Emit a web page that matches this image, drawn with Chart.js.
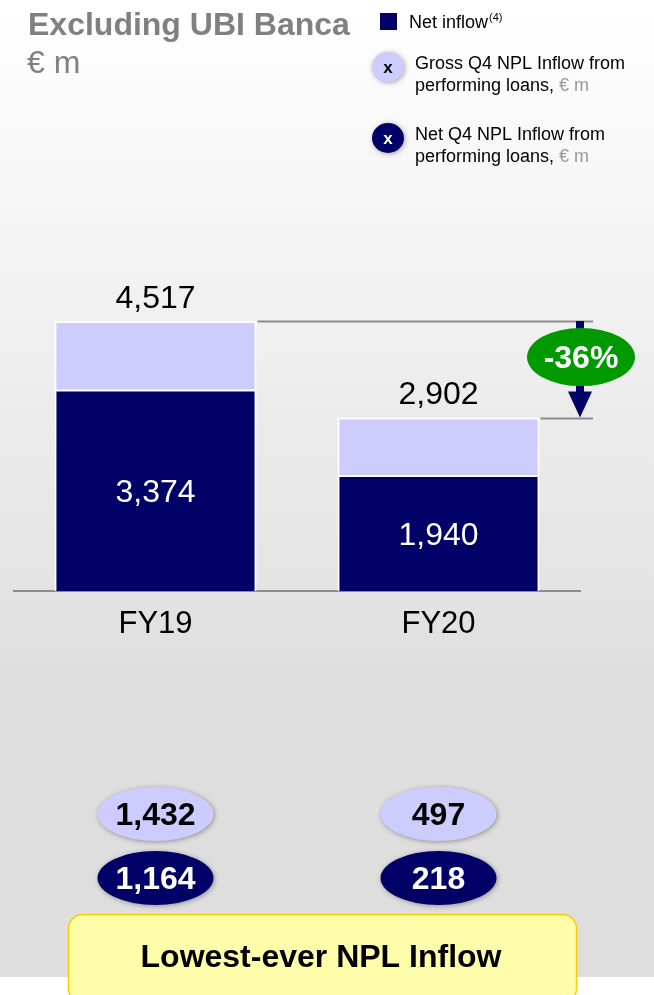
<!DOCTYPE html>
<html>
<head>
<meta charset="utf-8">
<script src="https://cdn.jsdelivr.net/npm/chart.js@4"></script>
<style>
  html, body { margin: 0; padding: 0; background: #fff; }
  #wrap { width: 654px; height: 995px; position: relative; }
</style>
</head>
<body>
<div id="wrap"><canvas id="chartInflow" width="654" height="995"></canvas></div>
<script>
// NPL inflow, excluding UBI Banca (€ m)
var categories = ['FY19', 'FY20'];
var netInflow = [3374, 1940];
var grossInflow = [4517, 2902];
var grossQ4 = [1432, 497];
var netQ4 = [1164, 218];
var changeLabel = '-36%';

var NAVY = '#000066';
var LILAC = '#ccccff';
var FONT = '"Liberation Sans", Arial, sans-serif';

function fmt(v) {
    return v.toLocaleString('en-US');
}

function ellipse(ctx, x, y, rx, ry, fill, shadow) {
    ctx.save();
    if (shadow) {
        ctx.shadowColor = 'rgba(0,0,0,0.35)';
        ctx.shadowBlur = 5;
        ctx.shadowOffsetX = 1;
        ctx.shadowOffsetY = 1;
    }
    ctx.beginPath();
    ctx.ellipse(x, y, rx, ry, 0, 0, Math.PI * 2);
    ctx.fillStyle = fill;
    ctx.fill();
    ctx.restore();
}

function text(ctx, str, x, y, font, color, align) {
    ctx.font = font;
    ctx.fillStyle = color;
    ctx.textAlign = align || 'center';
    ctx.textBaseline = 'middle';
    ctx.fillText(str, x, y);
}

// page background, title and legend
var backdrop = {
    id: 'backdrop',
    beforeDraw: function (chart) {
        var ctx = chart.ctx;
        ctx.save();
        var g = ctx.createLinearGradient(0, 0, 0, 700);
        g.addColorStop(0, '#ffffff');
        g.addColorStop(1, '#dedede');
        ctx.fillStyle = g;
        ctx.fillRect(0, 0, 654, 700);
        ctx.fillStyle = '#dedede';
        ctx.fillRect(0, 700, 654, 277);
        ctx.fillStyle = '#ffffff';
        ctx.fillRect(0, 977, 654, 18);

        text(ctx, 'Excluding UBI Banca', 28, 26, 'bold 32px ' + FONT, '#808080', 'left');
        text(ctx, '€ m', 27, 64, '32px ' + FONT, '#808080', 'left');

        // legend
        ctx.fillStyle = NAVY;
        ctx.fillRect(380, 13, 17, 17);
        text(ctx, 'Net inflow', 409, 23, '18px ' + FONT, '#000', 'left');
        ctx.font = '18px ' + FONT;
        var w = ctx.measureText('Net inflow').width;
        text(ctx, '(4)', 409 + w + 1, 18, '11px ' + FONT, '#000', 'left');

        var items = [
            { y: 67, fill: LILAC, ink: '#000', lines: ['Gross Q4 NPL Inflow from', 'performing loans, '] },
            { y: 138, fill: NAVY, ink: '#fff', lines: ['Net Q4 NPL Inflow from', 'performing loans, '] }
        ];
        items.forEach(function (it) {
            ellipse(ctx, 388, it.y, 16, 15, it.fill, true);
            text(ctx, 'x', 388, it.y + 1, 'bold 17px ' + FONT, it.ink);
            text(ctx, it.lines[0], 415, it.y - 3, '18px ' + FONT, '#000', 'left');
            text(ctx, it.lines[1], 415, it.y + 19, '18px ' + FONT, '#000', 'left');
            ctx.font = '18px ' + FONT;
            var lw = ctx.measureText(it.lines[1]).width;
            text(ctx, '€ m', 415 + lw, it.y + 19, '18px ' + FONT, '#999', 'left');
        });
        ctx.restore();
    }
};

// value labels, change arrow, Q4 bubbles and footer
var overlay = {
    id: 'overlay',
    afterDatasetsDraw: function (chart) {
        var ctx = chart.ctx;
        var y = chart.scales.y;
        var x = chart.scales.x;
        var netBars = chart.getDatasetMeta(0).data;
        var topBars = chart.getDatasetMeta(1).data;
        ctx.save();

        netBars.forEach(function (bar, i) {
            text(ctx, fmt(netInflow[i]), bar.x, (bar.y + bar.base) / 2 + 3, '32px ' + FONT, '#fff');
            var t = topBars[i];
            text(ctx, fmt(grossInflow[i]), t.x, t.y - 22, '32px ' + FONT, '#000');
        });

        // reference lines from the bar tops
        var ax = chart.chartArea.right;
        ctx.strokeStyle = '#8c8c8c';
        ctx.lineWidth = 2;
        topBars.forEach(function (t, i) {
            var yy = Math.round(y.getPixelForValue(grossInflow[i])) + 0.5;
            ctx.beginPath();
            ctx.moveTo(t.x + t.width / 2 + 1, yy);
            ctx.lineTo(ax + 13, yy);
            ctx.stroke();
        });

        // down arrow
        var y0 = y.getPixelForValue(grossInflow[0]);
        var y1 = y.getPixelForValue(grossInflow[1]);
        ctx.fillStyle = NAVY;
        ctx.fillRect(ax - 4, y0, 8, (y1 - y0) - 25);
        ctx.beginPath();
        ctx.moveTo(ax - 12, y1 - 26);
        ctx.lineTo(ax + 12, y1 - 26);
        ctx.lineTo(ax, y1);
        ctx.closePath();
        ctx.fill();

        ellipse(ctx, ax + 1, y0 + 36, 54, 29, '#009900', false);
        text(ctx, changeLabel, ax + 1, y0 + 38, 'bold 32px ' + FONT, '#fff');

        // Q4 bubbles under each year
        categories.forEach(function (c, i) {
            var cx = x.getPixelForValue(i);
            ellipse(ctx, cx, 814, 58, 27, LILAC, true);
            text(ctx, fmt(grossQ4[i]), cx, 816, 'bold 32px ' + FONT, '#000');
            ellipse(ctx, cx, 878, 58, 27, NAVY, true);
            text(ctx, fmt(netQ4[i]), cx, 880, 'bold 32px ' + FONT, '#fff');
        });

        // footer box
        ctx.beginPath();
        ctx.roundRect(68.5, 914.5, 508, 88, 14);
        ctx.fillStyle = '#fffcaa';
        ctx.fill();
        ctx.strokeStyle = '#ffcc00';
        ctx.lineWidth = 1.5;
        ctx.stroke();
        text(ctx, 'Lowest-ever NPL Inflow', 321, 958, 'bold 32px ' + FONT, '#000');

        ctx.restore();
    }
};

var ctx = document.getElementById('chartInflow').getContext('2d');

var chart = new Chart(ctx, {
    type: 'bar',
    data: {
        labels: categories,
        datasets: [{
            label: 'Net inflow',
            data: netInflow,
            backgroundColor: NAVY,
            borderColor: '#ffffff',
            borderWidth: 2,
            barPercentage: 0.714,
            categoryPercentage: 1
        }, {
            label: 'Gross minus net',
            data: grossInflow.map(function (g, i) { return g - netInflow[i]; }),
            backgroundColor: LILAC,
            borderColor: '#ffffff',
            borderWidth: 2,
            barPercentage: 0.714,
            categoryPercentage: 1
        }]
    },
    options: {
        responsive: false,
        animation: false,
        layout: { padding: { left: 14, right: 74, top: 113, bottom: 344 } },
        plugins: {
            legend: { display: false },
            tooltip: { enabled: false }
        },
        scales: {
            x: {
                stacked: true,
                grid: { display: false, drawTicks: false },
                border: { color: '#8c8c8c', width: 2 },
                ticks: {
                    color: '#000',
                    padding: 15,
                    font: { family: FONT, size: 31 }
                },
                afterFit: function (s) { s.height = 60; }
            },
            y: {
                stacked: true,
                display: false,
                min: 0,
                max: 8000
            }
        }
    },
    plugins: [backdrop, overlay]
});
</script>
</body>
</html>
